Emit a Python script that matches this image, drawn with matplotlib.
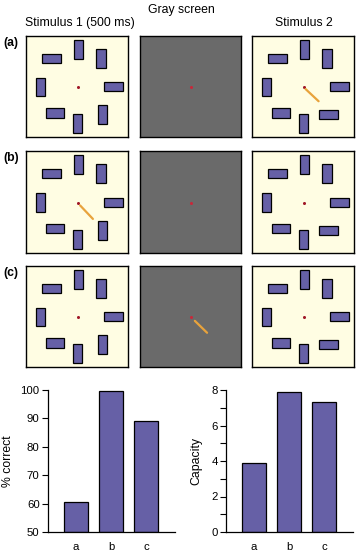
import matplotlib
matplotlib.use("Agg")
import matplotlib.pyplot as plt
from matplotlib.patches import Rectangle
from matplotlib.ticker import MultipleLocator

plt.rcParams['font.family'] = ['Liberation Sans', 'DejaVu Sans']

# ---- data ----
conditions = ['a', 'b', 'c']
pct_correct = [60.5, 99.5, 89.0]
capacity = [3.9, 7.9, 7.35]

column_titles = ['Stimulus 1 (500 ms)', 'Gray screen', 'Stimulus 2']
row_labels = ['(a)', '(b)', '(c)']

# item centres (panel units, 0-100, y downward)
item_x = [25.1, 51.5, 73.6, 14.4, 85.9, 28.4, 50.8, 75.4]
item_y = [22.0, 13.1, 22.0, 50.5, 50.3, 76.2, 86.9, 78.0]
orient_stim1 = ['h', 'v', 'v', 'v', 'h', 'h', 'v', 'v']
orient_stim2 = ['h', 'v', 'v', 'v', 'h', 'h', 'v', 'h']
fix_x, fix_y = 50.5, 50.5

# cue line per row: column index, start, end
cue_col = [2, 0, 1]
cue_x0 = [52.5, 53.1, 54.3]
cue_y0 = [52.5, 53.4, 54.3]
cue_x1 = [65.3, 65.6, 66.4]
cue_y1 = [64.6, 66.6, 66.1]

W, H = 358, 554
fig = plt.figure(figsize=(W / 100, H / 100), dpi=100)

def fx(px):
    return px / W

def fy(py):
    return 1 - py / H

col_left = [26, 140, 252]
col_w = [102, 101, 102]
row_top = [36, 151, 266]
row_h = [101, 102, 101]

bg_light = '#FFFDE3'
bg_gray = '#6A6A6A'
bar_col = '#6660A6'
cue_col_c = '#E8A33C'

L, S = 18.5, 9.0

for r in range(3):
    for c in range(3):
        ax = fig.add_axes([fx(col_left[c]), fy(row_top[r] + row_h[r]),
                           col_w[c] / W, row_h[r] / H])
        ax.set_xlim(0, 100)
        ax.set_ylim(100, 0)
        ax.set_xticks([])
        ax.set_yticks([])
        for sp in ax.spines.values():
            sp.set_linewidth(1.0)
            sp.set_color('black')
        if c == 1:
            ax.set_facecolor(bg_gray)
            ax.plot([fix_x], [fix_y], 'o', ms=2.2, color='#C8283A', mew=0)
        else:
            ax.set_facecolor(bg_light)
            orients = orient_stim1 if c == 0 else orient_stim2
            for x, y, o in zip(item_x, item_y, orients):
                w, h = (L, S) if o == 'h' else (S, L)
                ax.add_patch(Rectangle((x - w / 2, y - h / 2), w, h,
                                       facecolor=bar_col, edgecolor='black',
                                       linewidth=0.9))
            ax.plot([fix_x], [fix_y], 'o', ms=2.2, color='#A01828', mew=0)
        if cue_col[r] == c:
            ax.plot([cue_x0[r], cue_x1[r]], [cue_y0[r], cue_y1[r]],
                    color=cue_col_c, lw=1.6, solid_capstyle='round')
    fig.text(fx(3), fy(row_top[r] + 7), row_labels[r], fontsize=8.8,
             fontweight='bold', ha='left', va='center')

fig.text(fx(80), fy(23), column_titles[0], fontsize=8.8, ha='center', va='center')
fig.text(fx(181), fy(10), column_titles[1], fontsize=8.8, ha='center', va='center')
fig.text(fx(304), fy(23), column_titles[2], fontsize=8.8, ha='center', va='center')

# ---- bar charts ----
def bar_axes(left_px, vals, ylim, major, minor, ylabel, label_right_px):
    ax = fig.add_axes([fx(left_px), fy(532), 127 / W, 142 / H])
    xs = list(range(len(conditions)))
    ax.bar(xs, [v - ylim[0] for v in vals], bottom=ylim[0], width=0.69,
           color=bar_col, edgecolor='black', linewidth=0.9)
    ax.set_xlim(-0.8, 2.83)
    ax.set_ylim(*ylim)
    ax.set_xticks(xs)
    ax.set_xticklabels(conditions, fontsize=8.2)
    ax.tick_params(axis='x', length=0, pad=7)
    ax.yaxis.set_major_locator(MultipleLocator(major))
    if minor:
        ax.yaxis.set_minor_locator(MultipleLocator(minor))
    ax.tick_params(axis='y', which='both', length=4, width=0.8, direction='out',
                   labelsize=8.2, pad=2)
    for s in ['top', 'right']:
        ax.spines[s].set_visible(False)
    for s in ['left', 'bottom']:
        ax.spines[s].set_linewidth(0.9)
    ax.set_ylabel(ylabel, fontsize=8.8)
    ax.yaxis.set_label_coords((label_right_px - left_px) / 127, 0.5)
    return ax

bar_axes(48, pct_correct, (50, 100), 10, None, '% correct', 14.5)
bar_axes(226, capacity, (0, 8), 2, 1, 'Capacity', 202)

fig.savefig('out.png', dpi=100)
